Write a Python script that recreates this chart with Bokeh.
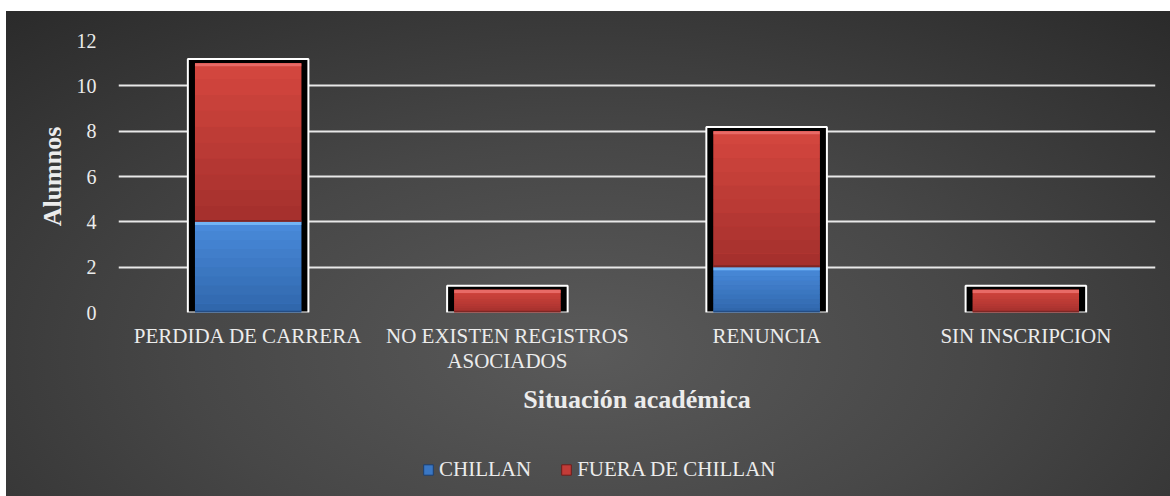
from bokeh.plotting import figure
from bokeh.layouts import column
from bokeh.models import FactorRange, Range1d, Legend, LegendItem, ColumnDataSource, FixedTicker
from bokeh.embed import file_html
from bokeh.resources import INLINE

# ---- data ----
categories = ["PERDIDA DE CARRERA", "NO EXISTEN REGISTROS\nASOCIADOS", "RENUNCIA", "SIN INSCRIPCION"]
chillan = [4, 0, 2, 0]
fuera = [7, 1, 6, 1]
series_names = ["CHILLAN", "FUERA DE CHILLAN"]
y_ticks = [0, 2, 4, 6, 8, 10, 12]
x_title = "Situación académica"
y_title = "Alumnos"

FONT = "Liberation Serif"
TXT = "#ececec"
C_CH = "#3a77c4"
C_FU = "#c23c38"

totals = [a + b for a, b in zip(chillan, fuera)]

p = figure(x_range=FactorRange(*categories, range_padding=0), y_range=Range1d(0, 12),
           width=1164, height=429, output_backend="svg", toolbar_location=None,
           min_border_left=112, min_border_right=15, min_border_top=29, min_border_bottom=128)
p.border_fill_alpha = 0
p.background_fill_alpha = 0
p.outline_line_color = None

# gridlines
p.ygrid.ticker = FixedTicker(ticks=y_ticks)
p.ygrid.grid_line_color = "#e8e8e8"
p.ygrid.grid_line_width = 2
p.xgrid.grid_line_color = None

# frames behind stacks
src_frame = ColumnDataSource(dict(x=categories, top=[t + 0.18 for t in totals]))
p.vbar(x="x", top="top", bottom=0, width=0.465, source=src_frame,
       fill_color="#000000", line_color="#ffffff", line_width=2)

# segments
src = ColumnDataSource(dict(x=categories, c=chillan, f=fuera, t=totals))
p.vbar(x="x", bottom=0, top="c", width=0.41, source=src, fill_color=C_CH, line_color=None)
p.vbar(x="x", bottom="c", top="t", width=0.41, source=src, fill_color=C_FU, line_color=None)

# vertical shading bands inside each segment
def hexmix(c1, c2, t):
    a = [int(c1[i:i + 2], 16) for i in (1, 3, 5)]
    b = [int(c2[i:i + 2], 16) for i in (1, 3, 5)]
    return "#" + "".join(f"{round(x + (y - x) * t):02x}" for x, y in zip(a, b))

N = 10
def shade(bottoms, tops, c_top, c_bot):
    for k in range(N):
        f0, f1 = k / N, (k + 1) / N
        xs, b, t = [], [], []
        for x, lo, hi in zip(categories, bottoms, tops):
            if hi > lo:
                xs.append(x)
                b.append(lo + (hi - lo) * f0)
                t.append(lo + (hi - lo) * f1)
        if xs:
            p.vbar(x=xs, bottom=b, top=t, width=0.41, fill_color=hexmix(c_bot, c_top, (k + 0.5) / N),
                   line_color=None)

shade([0] * len(chillan), chillan, "#4a8cdc", "#2f65aa")
shade(chillan, totals, "#d5473f", "#a32f2c")

# bevel highlights
ch = [(x, c) for x, c in zip(categories, chillan) if c > 0]
if ch:
    xs = [a for a, _ in ch]
    tops = [b for _, b in ch]
    p.vbar(x=xs, bottom=[t - 0.14 for t in tops], top=tops, width=0.41,
           fill_color="#72b4f4", line_color=None)
    p.vbar(x=xs, bottom=0, top=[0.08] * len(xs), width=0.41,
           fill_color="#234c84", line_color=None)
p.vbar(x=categories, bottom=[t - 0.14 for t in totals], top=totals, width=0.41,
       fill_color="#e86a66", line_color=None)
p.vbar(x=categories, bottom=chillan, top=[c + 0.08 for c in chillan], width=0.41,
       fill_color="#7e2624", line_color=None)

# axes
p.yaxis.ticker = FixedTicker(ticks=y_ticks)
for ax in (p.xaxis[0], p.yaxis[0]):
    ax.axis_line_color = None
    ax.major_tick_line_color = None
    ax.minor_tick_line_color = None
    ax.major_label_text_font = FONT
    ax.major_label_text_color = TXT
    ax.axis_label_text_font = FONT
    ax.axis_label_text_color = TXT
    ax.axis_label_text_font_size = "26px"
    ax.axis_label_text_font_style = "bold"
p.xaxis.major_label_text_font_size = "21px"
p.xaxis.major_label_text_line_height = 1.05
p.yaxis.major_label_text_font_size = "20px"
p.xaxis.axis_label = x_title
p.yaxis.axis_label = y_title
p.yaxis.major_label_standoff = 16
p.yaxis.axis_label_standoff = 7
p.xaxis.major_label_standoff = 5
p.xaxis.axis_label_standoff = 9

# legend strip
lg = figure(width=1164, height=56, output_backend="svg", toolbar_location=None,
            x_range=Range1d(0, 1), y_range=Range1d(0, 1),
            min_border_left=0, min_border_right=0, min_border_top=0, min_border_bottom=0)
lg.axis.visible = False
lg.grid.visible = False
lg.outline_line_color = None
lg.border_fill_alpha = 0
lg.background_fill_alpha = 0
l_ch = lg.vbar(x=[-5], top=[-5], bottom=[-6], width=0.1, fill_color=C_CH, line_color="#1d3f6e")
l_fu = lg.vbar(x=[-5], top=[-5], bottom=[-6], width=0.1, fill_color=C_FU, line_color="#6e1d1b")
legend = Legend(items=[LegendItem(label=series_names[0], renderers=[l_ch]),
                       LegendItem(label=series_names[1], renderers=[l_fu])],
                orientation="horizontal", location=(304, 14),
                label_text_font=FONT, label_text_color=TXT, label_text_font_size="21px",
                glyph_width=12, glyph_height=13, spacing=29, label_standoff=5,
                background_fill_alpha=0, border_line_color=None, margin=0, padding=0)
lg.add_layout(legend)

layout = column(p, lg, spacing=0)
layout.styles = {"background": "radial-gradient(ellipse 75% 95% at 50% 70%, #5a5a5a 0%, #474747 45%, #2a2a2a 100%)",
                 "margin-top": "11px", "margin-left": "6px"}

open("out.html", "w").write(file_html(layout, INLINE))
